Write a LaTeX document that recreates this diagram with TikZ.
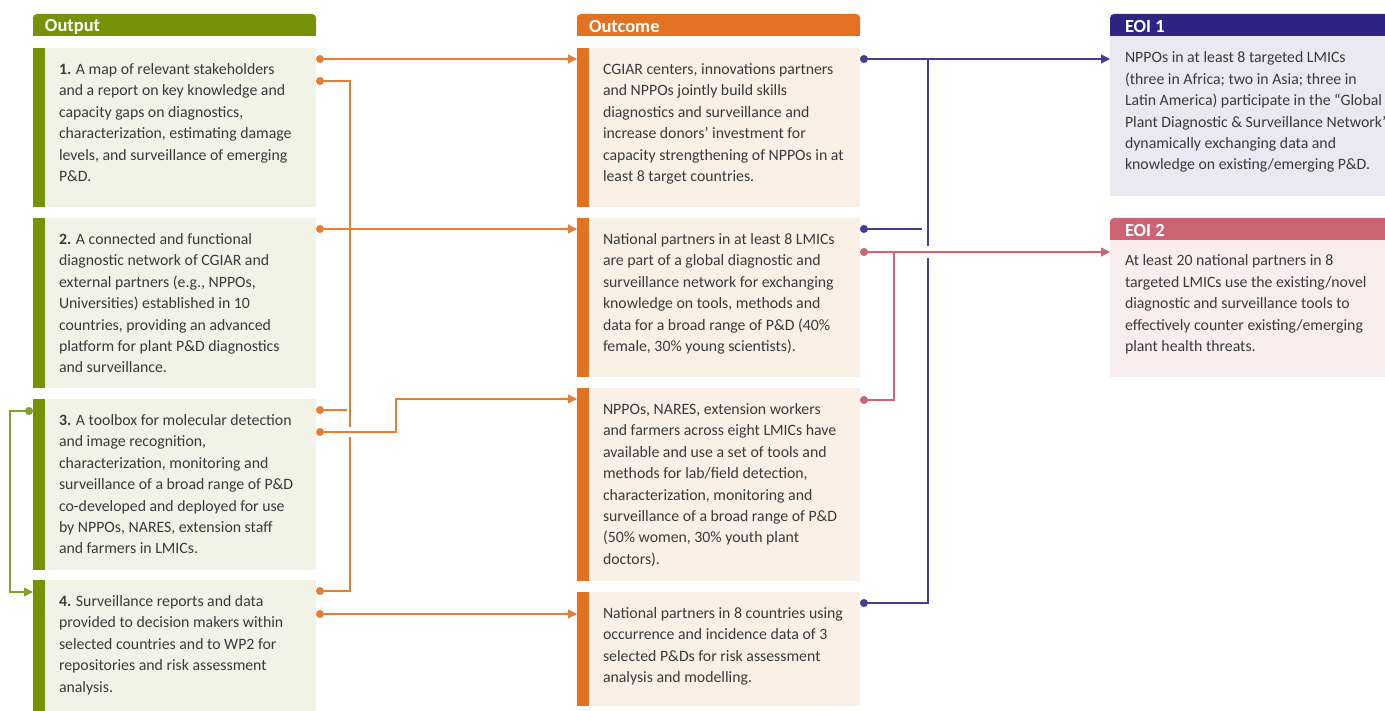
\documentclass[tikz,border=0pt]{standalone}
\usepackage{fontspec}
\setmainfont{Carlito}
\usetikzlibrary{arrows.meta}
\definecolor{outgreen}{RGB}{118,146,8}
\definecolor{outfill}{RGB}{241,243,230}
\definecolor{greenline}{RGB}{130,162,40}
\definecolor{orng}{RGB}{226,114,34}
\definecolor{orngline}{RGB}{232,126,52}
\definecolor{outcfill}{RGB}{251,240,230}
\definecolor{navy}{RGB}{46,35,128}
\definecolor{navyline}{RGB}{70,60,150}
\definecolor{eoifilla}{RGB}{234,232,243}
\definecolor{pinkc}{RGB}{204,100,116}
\definecolor{eoifillb}{RGB}{249,237,239}
\definecolor{txtgray}{RGB}{58,58,58}
\begin{document}
\begin{tikzpicture}[x=1pt,y=-1pt,
  every node/.style={inner sep=0pt,outer sep=0pt},
  boxnode/.style={rectangle,anchor=north west,minimum width=283pt},
  hdrnode/.style={rectangle,anchor=north west,minimum width=283pt,minimum height=22pt,rounded corners=4pt},
  hdrtext/.style={anchor=west,text=white,font=\bfseries\fontsize{18.5}{20}\selectfont},
  txt/.style={anchor=north west,align=left,text=txtgray,font=\fontsize{15.8}{21.4}\selectfont},
  oline/.style={draw=orngline,line width=1.3pt},
  pline/.style={draw=navyline,line width=1.3pt},
  kline/.style={draw=pinkc,line width=1.3pt},
  gline/.style={draw=greenline,line width=1.3pt},
  dotstart/.style={{Circle[length=8pt]}-},
  dotarrow/.style={{Circle[length=8pt]}-{Triangle[length=9pt,width=9pt]}},
  dotdot/.style={{Circle[length=8pt]}-{Circle[length=8pt]}}
]
\useasboundingbox (0,0) rectangle (1385,711);

% ---------- headers ----------
\node[hdrnode,fill=outgreen] (hout) at (33,14) {};
\fill[outgreen] (hout.west) rectangle (hout.south east);
\node[hdrtext] (houtl) at ([shift={(12,1.5)}]hout.west) {Output};

\node[hdrnode,fill=orng] (hoc) at (577,14) {};
\fill[orng] (hoc.west) rectangle (hoc.south east);
\node[hdrtext] (hocl) at ([shift={(12,1.5)}]hoc.west) {Outcome};

\node[hdrnode,fill=navy,minimum width=290pt] (he1) at (1110,14) {};
\fill[navy] (he1.west) rectangle (he1.south east);
\node[hdrtext] (he1l) at ([shift={(15,1.5)}]he1.west) {EOI 1};

\node[hdrnode,fill=pinkc,minimum width=290pt] (he2) at (1110,218) {};
\fill[pinkc] (he2.west) rectangle (he2.south east);
\node[hdrtext] (he2l) at ([shift={(15,1.5)}]he2.west) {EOI 2};

% ---------- output boxes ----------
\node[boxnode,fill=outfill,minimum height=159pt] (o1) at (33,48) {};
\node[boxnode,fill=outfill,minimum height=170pt] (o2) at (33,218) {};
\node[boxnode,fill=outfill,minimum height=171pt] (o3) at (33,399) {};
\node[boxnode,fill=outfill,minimum height=135pt] (o4) at (33,580) {};
\foreach \b in {o1,o2,o3,o4}{
  \fill[outgreen] (\b.north west) rectangle ([xshift=12pt]\b.south west);
}

% ---------- outcome boxes ----------
\node[boxnode,fill=outcfill,minimum height=159pt] (c1) at (577,48) {};
\node[boxnode,fill=outcfill,minimum height=159pt] (c2) at (577,218) {};
\node[boxnode,fill=outcfill,minimum height=193pt] (c3) at (577,388) {};
\node[boxnode,fill=outcfill,minimum height=114pt] (c4) at (577,592) {};
\foreach \b in {c1,c2,c3,c4}{
  \fill[orng] (\b.north west) rectangle ([xshift=12pt]\b.south west);
}

% ---------- EOI boxes ----------
\node[boxnode,fill=eoifilla,minimum width=290pt,minimum height=160pt] (e1) at (1110,36) {};
\node[boxnode,fill=eoifillb,minimum width=290pt,minimum height=137pt] (e2) at (1110,240) {};

% ---------- texts ----------
\node[txt] (o1t) at ([shift={(26,11.5)}]o1.north west) {\strut\textbf{1.} A map of relevant stakeholders\\and a report on key knowledge and\\capacity gaps on diagnostics,\\characterization, estimating damage\\levels, and surveillance of emerging\\P\&D.};
\node[txt] (o2t) at ([shift={(26,11.5)}]o2.north west) {\strut\textbf{2.} A connected and functional\\diagnostic network of CGIAR and\\external partners (e.g., NPPOs,\\Universities) established in 10\\countries, providing an advanced\\platform for plant P\&D diagnostics\\and surveillance.};
\node[txt] (o3t) at ([shift={(26,11.5)}]o3.north west) {\strut\textbf{3.} A toolbox for molecular detection\\and image recognition,\\characterization, monitoring and\\surveillance of a broad range of P\&D\\co-developed and deployed for use\\by NPPOs, NARES, extension staff\\and farmers in LMICs.};
\node[txt] (o4t) at ([shift={(26,11.5)}]o4.north west) {\strut\textbf{4.} Surveillance reports and data\\provided to decision makers within\\selected countries and to WP2 for\\repositories and risk assessment\\analysis.};

\node[txt] (c1t) at ([shift={(26,11.5)}]c1.north west) {\strut CGIAR centers, innovations partners\\and NPPOs jointly build skills\\diagnostics and surveillance and\\increase donors' investment for\\capacity strengthening of NPPOs in at\\least 8 target countries.};
\node[txt] (c2t) at ([shift={(26,11.5)}]c2.north west) {\strut National partners in at least 8 LMICs\\are part of a global diagnostic and\\surveillance network for exchanging\\knowledge on tools, methods and\\data for a broad range of P\&D (40\%\\female, 30\% young scientists).};
\node[txt] (c3t) at ([shift={(26,11.5)}]c3.north west) {\strut NPPOs, NARES, extension workers\\and farmers across eight LMICs have\\available and use a set of tools and\\methods for lab/field detection,\\characterization, monitoring and\\surveillance of a broad range of P\&D\\(50\% women, 30\% youth plant\\doctors).};
\node[txt] (c4t) at ([shift={(26,11.5)}]c4.north west) {\strut National partners in 8 countries using\\occurrence and incidence data of 3\\selected P\&Ds for risk assessment\\analysis and modelling.};

\node[txt] (e1t) at ([shift={(15,12)}]e1.north west) {\strut NPPOs in at least 8 targeted LMICs\\(three in Africa; two in Asia; three in\\Latin America) participate in the “Global\\Plant Diagnostic \& Surveillance Network”\\dynamically exchanging data and\\knowledge on existing/emerging P\&D.};
\node[txt] (e2t) at ([shift={(15,11)}]e2.north west) {\strut At least 20 national partners in 8\\targeted LMICs use the existing/novel\\diagnostic and surveillance tools to\\effectively counter existing/emerging\\plant health threats.};

% ---------- orange connectors ----------
\draw[oline,dotarrow] ([shift={(0,11)}]o1.north east) -- ([shift={(0,11)}]c1.north west);
\draw[oline,dotarrow] ([shift={(0,11)}]o2.north east) -- ([shift={(0,11)}]c2.north west);
\draw[oline,dotdot] ([shift={(0,33)}]o1.north east) -- ++(34,0) |- ([shift={(0,11)}]o4.north east);
\draw[oline,dotstart] ([shift={(0,11)}]o3.north east) -- ++(31,0);
\fill[white] ([shift={(32,28)}]o3.north east) rectangle ([shift={(36,38)}]o3.north east);
\draw[oline,dotarrow] ([shift={(0,33)}]o3.north east) -- ++(80,0) |- ([shift={(0,11)}]c3.north west);
\draw[oline,dotarrow] ([shift={(0,34)}]o4.north east) -- ([shift={(0,22)}]c4.north west);

% ---------- purple connectors ----------
\draw[pline,dotarrow] ([shift={(0,11)}]c1.north east) -- ([shift={(0,23)}]e1.north west);
\draw[pline,dotstart] ([shift={(0,11)}]c2.north east) -- ++(62,0);
\draw[pline,dotstart] ([shift={(0,11)}]c4.north east) -| ([shift={(68,11)}]c1.north east);

% ---------- pink connectors ----------
\fill[white] ([shift={(66,28)}]c2.north east) rectangle ([shift={(70,40)}]c2.north east);
\draw[kline,dotarrow] ([shift={(0,34)}]c2.north east) -- ([shift={(0,12)}]e2.north west);
\draw[kline,dotstart] ([shift={(0,12)}]c3.north east) -- ++(34,0) |- ([shift={(34,34)}]c2.north east);

% ---------- green loop ----------
\draw[gline,dotarrow] ([shift={(0,12)}]o3.north west) -- ++(-23,0) |- ([shift={(0,12)}]o4.north west);
\end{tikzpicture}
\end{document}
